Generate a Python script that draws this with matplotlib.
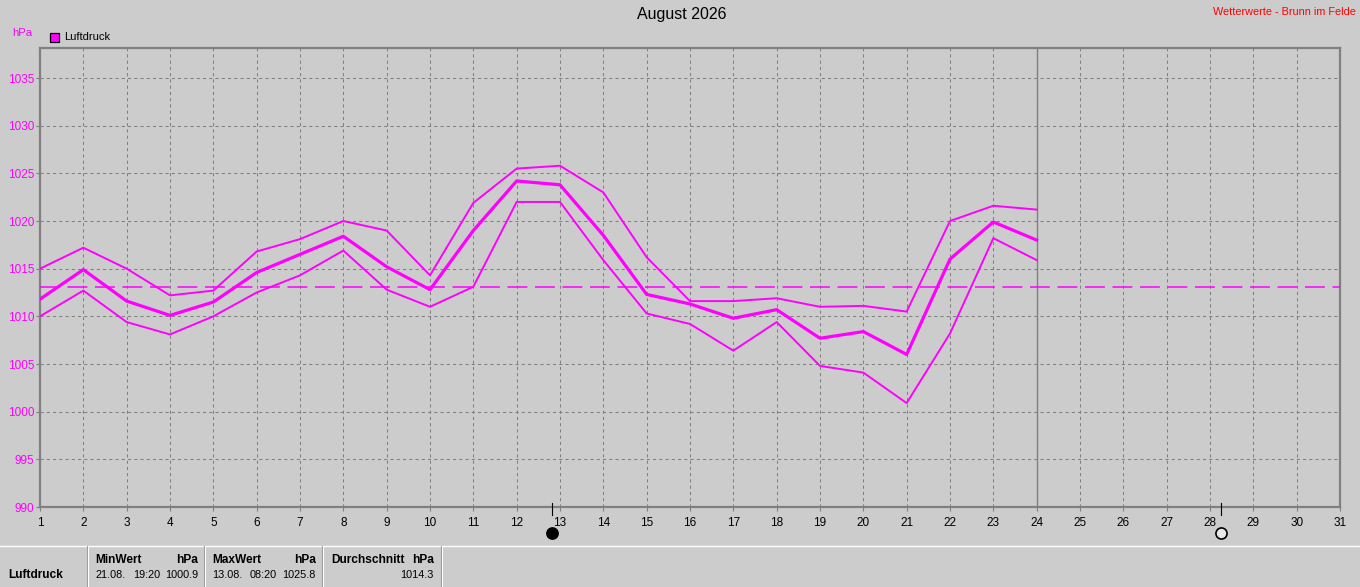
#!/usr/bin/env python3
"""
Luftdruck August 2026 - daily max / mean / min chart
"""

import matplotlib
matplotlib.use("Agg")
import matplotlib.pyplot as plt
import matplotlib.transforms as mtransforms
from matplotlib.lines import Line2D
from matplotlib.patches import Rectangle

# Daily values (hPa), days 1..24
days = list(range(1, 25))
p_max = [1015.0, 1017.2, 1015.0, 1012.2, 1012.7, 1016.8, 1018.1, 1020.0, 1019.0, 1014.3,
         1021.9, 1025.5, 1025.8, 1023.0, 1016.2, 1011.6, 1011.6, 1011.9, 1011.0, 1011.1,
         1010.5, 1020.0, 1021.6, 1021.2]
p_mean = [1011.8, 1014.9, 1011.6, 1010.1, 1011.5, 1014.6, 1016.5, 1018.4, 1015.2, 1012.8,
          1019.0, 1024.2, 1023.8, 1018.5, 1012.3, 1011.3, 1009.8, 1010.7, 1007.7, 1008.4,
          1006.0, 1016.0, 1019.9, 1018.0]
p_min = [1010.0, 1012.7, 1009.4, 1008.1, 1010.0, 1012.5, 1014.3, 1016.9, 1012.8, 1011.0,
         1013.1, 1022.0, 1022.0, 1015.9, 1010.3, 1009.2, 1006.4, 1009.4, 1004.8, 1004.1,
         1000.9, 1008.2, 1018.2, 1015.9]
month_avg_line = 1013.1
current_day = 24

# moon phases (day of month, fractional): new moon, full moon
moon_days = [12.82, 28.26]
moon_fill = ['black', '#e8e8e8']

# summary table
stat_min = ("21.08.", "19:20", "1000.9")
stat_max = ("13.08.", "08:20", "1025.8")
stat_avg = "1014.3"

W, H = 1360, 587
BG = '#cccccc'
MAG = '#ff00ff'
GRID = '#808080'
FONT = 'Liberation Sans'


def fx(px):
    return px / W


def fy(py):
    return 1 - py / H


fig = plt.figure(figsize=(W / 100, H / 100), dpi=100, facecolor=BG)
ax = fig.add_axes([fx(40), fy(507), fx(1340) - fx(40), fy(48) - fy(507)])
ax.set_facecolor(BG)

ax.set_xlim(1, 31)
ax.set_ylim(990, 1038.15)

# grid
for d in range(2, 31):
    ax.axvline(d, color=GRID, lw=0.75, ls=(0, (3, 3)), zorder=1)
for v in range(995, 1036, 5):
    ax.axhline(v, color=GRID, lw=0.75, ls=(0, (3, 3)), zorder=1)
ax.axvline(current_day, color=GRID, lw=1.0, zorder=2)

# data
ax.plot(days, p_max, color=MAG, lw=1.4, zorder=4)
ax.plot(days, p_min, color=MAG, lw=1.4, zorder=4)
ax.plot(days, p_mean, color=MAG, lw=2.3, zorder=5)
ax.axhline(month_avg_line, color=MAG, lw=1.1, ls=(0, (13, 5)), zorder=3)

# axes styling
for s in ax.spines.values():
    s.set_color(GRID)
    s.set_linewidth(1.6)
ax.set_xticks(range(1, 32))
ax.set_yticks(range(990, 1036, 5))
ax.tick_params(axis='x', colors=GRID, labelcolor='black', length=3, width=0.8, pad=4,
               labelsize=8.5)
ax.tick_params(axis='y', colors=GRID, labelcolor=MAG, length=3, width=0.8, pad=1,
               labelsize=8.5)
for lab in ax.get_xticklabels() + ax.get_yticklabels():
    lab.set_family(FONT)

# moon markers below the axis
trans = mtransforms.blended_transform_factory(ax.transData, ax.transAxes)
for d, fc in zip(moon_days, moon_fill):
    ax.add_line(Line2D([d, d], [0.009, -0.018], transform=trans, color='black',
                       lw=0.8, clip_on=False, zorder=6))
    ax.plot([d], [-0.057], marker='o', ms=8, mfc=fc, mec='black', mew=1.2,
            transform=trans, clip_on=False, zorder=6)

# titles / labels
fig.text(fx(682), fy(15), 'August 2026', ha='center', va='center', fontsize=11.5,
         family=FONT, color='black')
fig.text(fx(1356), fy(12), 'Wetterwerte - Brunn im Felde', ha='right', va='center',
         fontsize=7.8, family=FONT, color='red')
fig.text(fx(12), fy(33), 'hPa', ha='left', va='center', fontsize=8.2, family=FONT, color=MAG)
fig.patches.append(Rectangle((fx(50), fy(42)), fx(9), fy(33) - fy(42), transform=fig.transFigure,
                             facecolor=MAG, edgecolor='black', lw=0.9))
fig.text(fx(64), fy(37), 'Luftdruck', ha='left', va='center', fontsize=8, family=FONT,
         color='black')

# summary table at the bottom
fig.add_artist(Line2D([0, 1], [fy(545.5), fy(545.5)], transform=fig.transFigure,
                      color='white', lw=1.0))
for xs in [87, 204, 322, 441]:
    fig.add_artist(Line2D([fx(xs), fx(xs)], [fy(546), 0], transform=fig.transFigure,
                          color='#999999', lw=0.8))
    fig.add_artist(Line2D([fx(xs + 1.2), fx(xs + 1.2)], [fy(546), 0],
                          transform=fig.transFigure, color='white', lw=0.8))

bold = dict(fontsize=8.6, family=FONT, fontweight='bold', color='black', va='center')
norm = dict(fontsize=7.8, family=FONT, color='black', va='center')
y_head, y_val = fy(560), fy(575)

fig.text(fx(8), y_val, 'Luftdruck', ha='left', **bold)

fig.text(fx(95), y_head, 'MinWert', ha='left', **bold)
fig.text(fx(198), y_head, 'hPa', ha='right', **bold)
fig.text(fx(95), y_val, stat_min[0], ha='left', **norm)
fig.text(fx(133), y_val, stat_min[1], ha='left', **norm)
fig.text(fx(198), y_val, stat_min[2], ha='right', **norm)

fig.text(fx(212), y_head, 'MaxWert', ha='left', **bold)
fig.text(fx(316), y_head, 'hPa', ha='right', **bold)
fig.text(fx(212), y_val, stat_max[0], ha='left', **norm)
fig.text(fx(250), y_val, stat_max[1], ha='left', **norm)
fig.text(fx(316), y_val, stat_max[2], ha='right', **norm)

fig.text(fx(331), y_head, 'Durchschnitt', ha='left', **bold)
fig.text(fx(434), y_head, 'hPa', ha='right', **bold)
fig.text(fx(434), y_val, stat_avg, ha='right', **norm)

fig.savefig('out.png', dpi=100, facecolor=BG)
plt.close(fig)
